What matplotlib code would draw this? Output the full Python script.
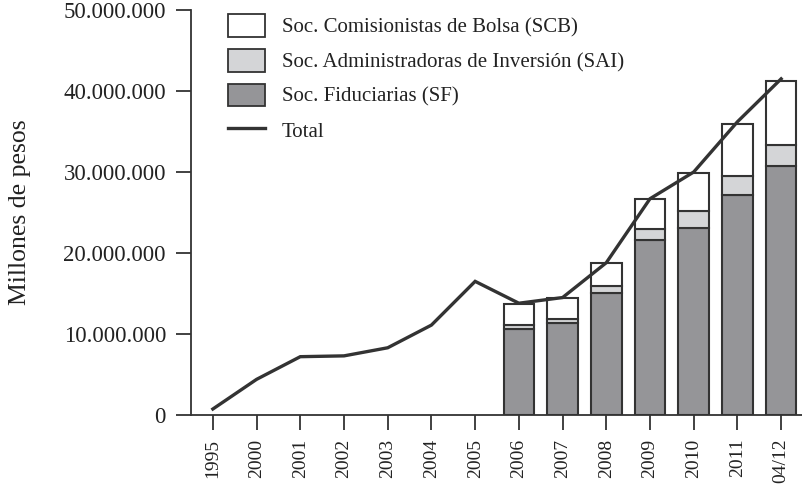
import numpy as np
import matplotlib
matplotlib.use("Agg")
import matplotlib.pyplot as plt
from matplotlib.ticker import FuncFormatter
from matplotlib.patches import Patch
from matplotlib.lines import Line2D

plt.rcParams["font.family"] = ["Liberation Serif", "DejaVu Serif"]

# categorias del eje x
years = ["1995", "2000", "2001", "2002", "2003", "2004", "2005",
         "2006", "2007", "2008", "2009", "2010", "2011", "04/12"]
bar_years = ["2006", "2007", "2008", "2009", "2010", "2011", "04/12"]

# valores en millones de pesos (en millones)
sf = [10.6, 11.4, 15.1, 21.6, 23.1, 27.1, 30.7]
sai = [0.5, 0.5, 0.8, 1.4, 2.1, 2.4, 2.6]
scb = [2.6, 2.5, 2.9, 3.7, 4.7, 6.4, 7.9]
total = [0.74, 4.4, 7.2, 7.3, 8.3, 11.1, 16.5,
         13.8, 14.5, 18.8, 26.7, 30.0, 36.2, 41.5]

EDGE = "#333333"
TXT = "#222222"
C_SF = "#959598"
C_SAI = "#d4d5d7"
C_SCB = "#ffffff"


def main():
    fig = plt.figure(figsize=(8.03, 4.95), dpi=100)
    ax = fig.add_axes([191 / 803, 80 / 495, 612 / 803, 405 / 495])

    x = np.arange(len(years))
    xb = np.array([years.index(y) for y in bar_years])
    sf_v = np.array(sf) * 1e6
    sai_v = np.array(sai) * 1e6
    scb_v = np.array(scb) * 1e6

    w = 0.7
    ax.bar(xb, sf_v, w, color=C_SF, edgecolor=EDGE, linewidth=1.5, zorder=2)
    ax.bar(xb, sai_v, w, bottom=sf_v, color=C_SAI, edgecolor=EDGE,
           linewidth=1.5, zorder=2)
    ax.bar(xb, scb_v, w, bottom=sf_v + sai_v, color=C_SCB, edgecolor=EDGE,
           linewidth=1.5, zorder=2)
    ax.plot(x, np.array(total) * 1e6, color=EDGE, linewidth=2.4, zorder=3,
            solid_joinstyle="miter")

    ax.set_xlim(-0.5, 13.5)
    ax.set_ylim(0, 50e6)
    ax.set_yticks(np.arange(0, 50e6 + 1, 10e6))
    ax.yaxis.set_major_formatter(
        FuncFormatter(lambda v, p: f"{int(v):,}".replace(",", ".")))
    ax.set_xticks(x)
    ax.set_xticklabels(years, rotation=90)

    for s in ["top", "right"]:
        ax.spines[s].set_visible(False)
    for s in ["left", "bottom"]:
        ax.spines[s].set_color(EDGE)
        ax.spines[s].set_linewidth(1.3)
    ax.tick_params(axis="y", direction="out", length=11, width=1.3,
                   color=EDGE, labelsize=16.5, labelcolor=TXT, pad=7)
    ax.tick_params(axis="x", direction="out", length=11, width=1.3,
                   color=EDGE, labelsize=14, labelcolor=TXT, pad=6)

    ax.set_ylabel("Millones de pesos", fontsize=18.5, color=TXT)
    ax.yaxis.set_label_coords(-0.262, 0.5)

    handles = [
        Patch(facecolor=C_SCB, edgecolor=EDGE, linewidth=1.3),
        Patch(facecolor=C_SAI, edgecolor=EDGE, linewidth=1.3),
        Patch(facecolor=C_SF, edgecolor=EDGE, linewidth=1.3),
        Line2D([], [], color=EDGE, linewidth=2.4),
    ]
    labels = ["Soc. Comisionistas de Bolsa (SCB)",
              "Soc. Administradoras de Inversión (SAI)",
              "Soc. Fiduciarias (SF)",
              "Total"]
    leg = ax.legend(handles, labels, loc="upper left",
                    bbox_to_anchor=(0.06, 0.99), frameon=False,
                    fontsize=15, handlelength=1.8, handleheight=1.3,
                    handletextpad=0.8, labelspacing=0.55, borderpad=0,
                    borderaxespad=0)
    for t in leg.get_texts():
        t.set_color(TXT)

    fig.savefig("out.png", dpi=100)
    plt.close(fig)


if __name__ == "__main__":
    main()
